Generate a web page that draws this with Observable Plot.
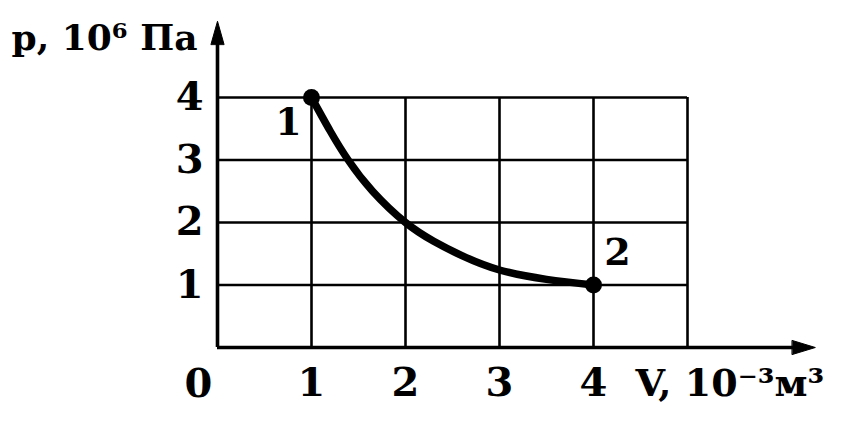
<!DOCTYPE html>
<html>
<head>
<meta charset="utf-8">
<script src="https://cdn.jsdelivr.net/npm/d3@7"></script>
<script src="https://cdn.jsdelivr.net/npm/@observablehq/plot@0.6"></script>
<style>
  html, body { margin: 0; padding: 0; background: #fff; }
  #chart svg { display: block; }
</style>
</head>
<body>
<div id="chart"></div>
<script>
// Curve p(V)
const volume = [1, 1.2, 1.39, 1.65, 2, 2.3, 2.6, 3, 3.5, 4];
const pressure = [4, 3.46, 3, 2.5, 2, 1.7, 1.47, 1.24, 1.09, 1];
// Labelled states
const stateNames = ["1", "2"];
const stateV = [1, 4];
const stateP = [4, 1];
// Grid and ticks
const xTicks = [1, 2, 3, 4];
const xGrid = [1, 2, 3, 4, 5];
const yTicks = [1, 2, 3, 4];
const gridMaxV = 5;
const gridMaxP = 4;
const axisTipV = 6.36;
const axisTipP = 5.22;
const yTitle = "p, 10⁶ Па";
const xTitle = "V, 10⁻³м³";

const curve = volume.map((v, i) => ({V: v, p: pressure[i]}));
const states = stateNames.map((n, i) => ({name: n, V: stateV[i], p: stateP[i]}));

const font = "DejaVu Serif";
const arrowShape = {
  draw(context, l, r) {
    context.moveTo(-r, 0);
    context.lineTo(0, -l);
    context.lineTo(r, 0);
    context.closePath();
  }
};

const chart = Plot.plot({
  width: 851,
  height: 430,
  marginLeft: 217,
  marginRight: 164,
  marginTop: 97,
  marginBottom: 83,
  x: {domain: [0, gridMaxV], axis: null},
  y: {domain: [0, gridMaxP], axis: null},
  style: {background: "#fff", color: "#000", fontFamily: font},
  marks: [
    // grid
    Plot.ruleX(xGrid, {y1: 0, y2: gridMaxP, stroke: "#000", strokeWidth: 2.6}),
    Plot.ruleY(yTicks, {x1: 0, x2: gridMaxV, stroke: "#000", strokeWidth: 2.6}),
    // axes
    Plot.ruleX([0], {y1: 0, y2: axisTipP - 0.2, stroke: "#000", strokeWidth: 3.6}),
    Plot.ruleY([0], {x1: 0, x2: axisTipV - 0.1, stroke: "#000", strokeWidth: 3.6}),
    Plot.vector([0], {x: 0, y: axisTipP, length: 23, r: 6.5, rotate: 0, anchor: "end",
      shape: arrowShape, fill: "#000", stroke: "#000", strokeWidth: 1}),
    Plot.vector([0], {x: axisTipV, y: 0, length: 23, r: 7, rotate: 90, anchor: "end",
      shape: arrowShape, fill: "#000", stroke: "#000", strokeWidth: 1}),
    // curve
    Plot.line(curve, {x: "V", y: "p", curve: "natural", stroke: "#000",
      strokeWidth: 7.5, strokeLinecap: "round"}),
    Plot.dot(states, {x: "V", y: "p", r: 8.5, fill: "#000", stroke: "none"}),
    // state labels
    Plot.text(states.slice(0, 1), {x: "V", y: "p", text: "name", dx: -23, dy: 25,
      fontSize: 38, fontWeight: "bold", fill: "#000"}),
    Plot.text(states.slice(1), {x: "V", y: "p", text: "name", dx: 24, dy: -32,
      fontSize: 38, fontWeight: "bold", fill: "#000"}),
    // tick labels
    Plot.text(xTicks, {x: d => d, y: 0, text: d => String(d), dy: 36,
      fontSize: 40, fontWeight: "bold", fill: "#000"}),
    Plot.text(yTicks, {x: 0, y: d => d, text: d => String(d), dx: -14, textAnchor: "end",
      fontSize: 40, fontWeight: "bold", fill: "#000"}),
    Plot.text(["0"], {x: 0, y: 0, text: d => d, dx: -19, dy: 37,
      fontSize: 40, fontWeight: "bold", fill: "#000"}),
    // axis titles
    Plot.text([xTitle], {x: xTicks[xTicks.length - 1], y: 0, text: d => d, dx: 42, dy: 36,
      textAnchor: "start", fontSize: 38, fontWeight: "bold", fill: "#000"}),
    Plot.text([yTitle], {x: 0, y: gridMaxP, text: d => d, dx: -20, dy: -59,
      textAnchor: "end", fontSize: 36, fontWeight: "bold", fill: "#000"})
  ]
});
document.getElementById("chart").appendChild(chart);
</script>
</body>
</html>
